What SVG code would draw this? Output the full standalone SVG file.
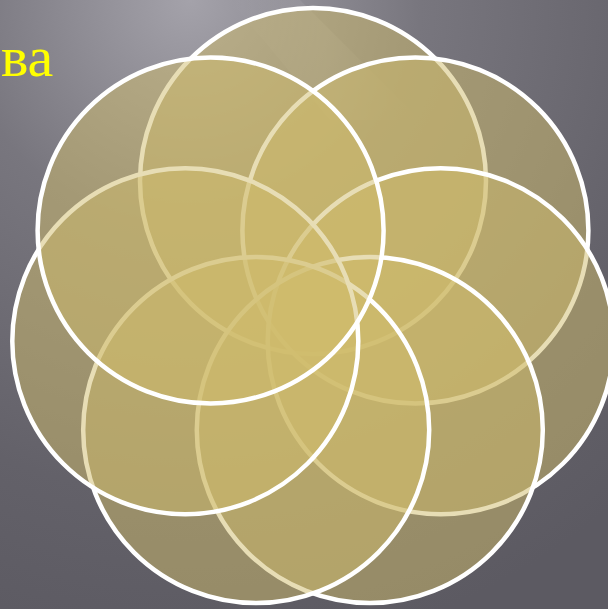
<svg xmlns="http://www.w3.org/2000/svg" width="608" height="609" viewBox="0 0 608 609">
  <defs>
    <radialGradient id="bg" cx="190" cy="0" r="660" gradientUnits="userSpaceOnUse">
      <stop offset="0" stop-color="#a4a2aa"/>
      <stop offset="0.35" stop-color="#78767e"/>
      <stop offset="0.75" stop-color="#636169"/>
      <stop offset="1" stop-color="#5c5a62"/>
    </radialGradient>
    <linearGradient id="streak" x1="0" y1="0" x2="1" y2="0">
      <stop offset="0" stop-color="#ffffff" stop-opacity="0"/>
      <stop offset="0.5" stop-color="#ffffff" stop-opacity="0.08"/>
      <stop offset="1" stop-color="#ffffff" stop-opacity="0"/>
    </linearGradient>
  </defs>
  <style>
    .c { fill: #d0bc6c; fill-opacity: 0.5; stroke: #ffffff; stroke-width: 4.5; }
    .t { font-family: "Liberation Serif", "DejaVu Serif", serif; font-size: 58px; fill: #ffff00; }
  </style>
  <rect x="0" y="0" width="608" height="609" fill="url(#bg)"/>
  <polygon points="230,0 300,0 420,120 330,120" fill="url(#streak)"/>
  <text class="t" x="1" y="76">ва</text>
  <g id="circles">
    <g id="c-top"><circle class="c" cx="313" cy="181" r="173"/></g>
    <g id="c-top-right"><circle class="c" cx="415.4" cy="230.5" r="173"/></g>
    <g id="c-right"><circle class="c" cx="440.7" cy="341.2" r="173"/></g>
    <g id="c-bottom-right"><circle class="c" cx="369.8" cy="430" r="173"/></g>
    <g id="c-bottom-left"><circle class="c" cx="256.2" cy="430" r="173"/></g>
    <g id="c-left"><circle class="c" cx="185.3" cy="341.2" r="173"/></g>
    <g id="c-top-left"><circle class="c" cx="210.6" cy="230.5" r="173"/></g>
  </g>
</svg>
